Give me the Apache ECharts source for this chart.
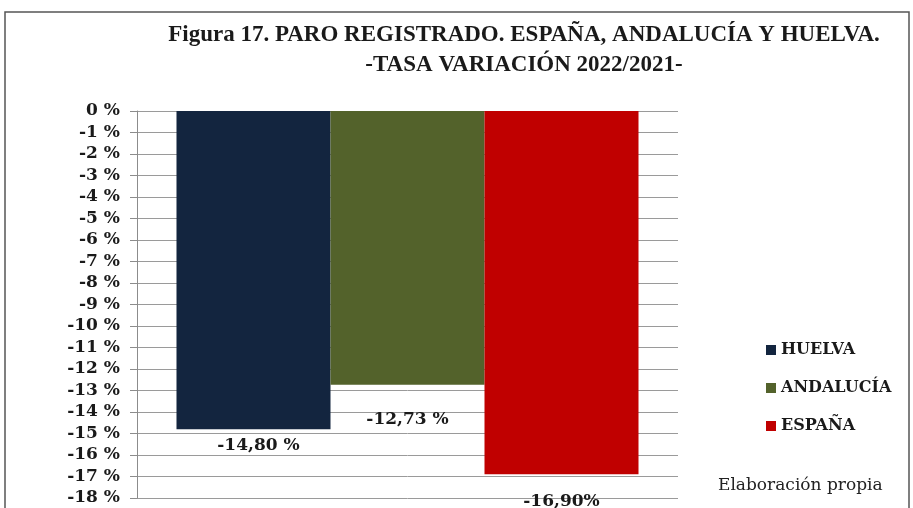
<!DOCTYPE html>
<html><head><meta charset="utf-8">
<script src="https://cdn.jsdelivr.net/npm/echarts@6/dist/echarts.min.js"></script>
<style>html,body{margin:0;padding:0;background:#fff}#c{width:913px;height:508px}</style>
</head><body><div id="c"></div>
<script>
const seriesNames = ['HUELVA', 'ANDALUCÍA', 'ESPAÑA'];
const seriesValues = [-14.80, -12.73, -16.90];
const valueLabels = ['-14,80 %', '-12,73 %', '-16,90%'];
const seriesColors = ['#13253f', '#53622b', '#c00000'];
const labelDistances = [8, 26, 19];
const labelOffsetsX = [5, 0, 0];
const axisMin = -18, axisMax = 0, axisStep = 1;

const chart = echarts.init(document.getElementById('c'));
const serif = '"DejaVu Serif", serif';
chart.setOption({
  animation: false,
  title: {
    text: 'Figura 17. PARO REGISTRADO. ESPAÑA, ANDALUCÍA Y HUELVA.\n-TASA VARIACIÓN 2022/2021-',
    left: 519, top: 15, textAlign: 'center',
    textStyle: { fontFamily: '"Liberation Serif", serif', fontWeight: 'bold', fontSize: 23, lineHeight: 30, color: '#1a1a1a' }
  },
  graphic: [
    { type: 'rect', shape: { x: 5, y: 12, width: 904, height: 520 }, style: { fill: 'none', stroke: '#555', lineWidth: 1.5 }, silent: true },
    { type: 'text', left: 718, top: 477, style: { text: 'Elaboración propia', font: '17px "DejaVu Serif", serif', fill: '#222' } }
  ],
  legend: {
    orient: 'vertical', left: 761, top: 337, itemWidth: 10, itemHeight: 10, itemGap: 22, icon: 'rect',
    data: seriesNames,
    textStyle: { fontFamily: serif, fontWeight: 'bold', fontSize: 16, lineHeight: 16, color: '#1a1a1a' }
  },
  grid: { left: 137, right: 235, top: 111, bottom: 10 },
  xAxis: {
    type: 'category', data: [''],
    axisLine: { show: false }, axisTick: { show: false }, axisLabel: { show: false }
  },
  yAxis: {
    type: 'value', min: axisMin, max: axisMax, interval: axisStep,
    axisLine: { show: true, lineStyle: { color: '#8c8c8c' } },
    axisTick: { show: true, length: 7, lineStyle: { color: '#8c8c8c' } },
    splitLine: { show: true, lineStyle: { color: '#9a9a9a', width: 1 } },
    axisLabel: { margin: 17, formatter: v => v + ' %', fontFamily: serif, fontWeight: 'bold', fontSize: 17, color: '#1a1a1a' }
  },
  series: seriesNames.map((n, i) => ({
    name: n, type: 'bar', data: [seriesValues[i]],
    barGap: '0%', barCategoryGap: '14.6%',
    itemStyle: { color: seriesColors[i] },
    label: {
      show: true, position: 'bottom', distance: labelDistances[i], offset: [labelOffsetsX[i], 0],
      formatter: () => valueLabels[i],
      fontFamily: serif, fontWeight: 'bold', fontSize: 17, color: '#1a1a1a'
    }
  }))
});
</script></body></html>
